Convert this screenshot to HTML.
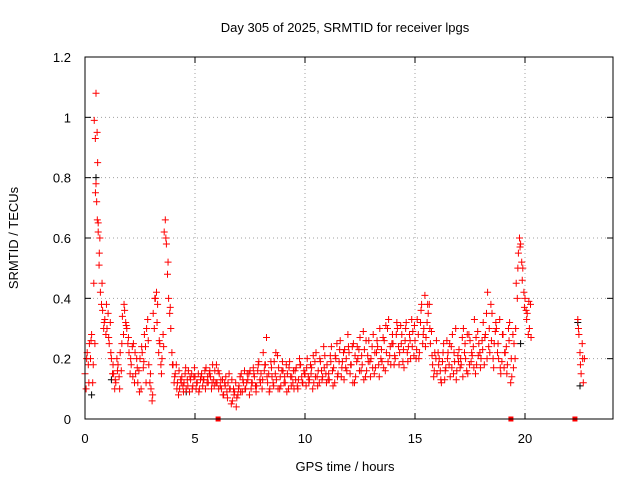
<!DOCTYPE html>
<html><head><meta charset="utf-8"><style>
body{margin:0;background:#fff}
svg{display:block;font-family:"Liberation Sans",sans-serif;font-size:13px}
</style></head><body>
<svg id="chart" width="640" height="480">
<text x="345" y="32" text-anchor="middle">Day 305 of 2025, SRMTID for receiver lpgs</text>
<text transform="translate(18,238) rotate(-90)" text-anchor="middle">SRMTID / TECUs</text>
<text x="345" y="471" text-anchor="middle">GPS time / hours</text>
<g id="grid"></g>
<g id="ticks"></g>
<g id="pts"></g>
<rect x="85" y="57" width="528" height="362" fill="none" stroke="#000" stroke-width="1"/>
</svg>
<script>
const xTicks=[0,5,10,15,20];
const yTicks=[0,0.2,0.4,0.6,0.8,1,1.2];
const yTickLabels=["0","0.2","0.4","0.6","0.8","1","1.2"];
const valsA=[0.15,0.22,0.25,0.28,0.45,1.08,0.65,0.42,0.36,0.33,
0.30,0.25,0.20,0.15,0.12,0.18,0.22,0.34,0.36,0.30,
0.22,0.18,0.25,0.15,0.12,0.20,0.22,0.28,0.30,0.18,
0.10,0.35,0.40,0.38,0.25,0.20,0.62,0.58,0.40,0.30,
0.18,0.15,0.12,0.10,0.14,0.12,0.10,0.16,0.13,0.11,
0.14,0.12,0.10,0.15,0.13,0.17,0.12,0.14,0.18,0.16,
0.12,0.15,0.10,0.08,0.14,0.12,0.10,0.06,0.09,0.07,
0.11,0.15,0.12,0.10,0.13,0.16,0.12,0.14,0.11,0.19,
0.15,0.22,0.18,0.12,0.10,0.14,0.19,0.13,0.17,0.11,
0.16,0.12,0.15,0.19,0.14,0.10,0.17,0.13,0.18,0.12,
0.15,0.20,0.13,0.17,0.12,0.22,0.16,0.19,0.14,0.21,
0.18,0.13,0.24,0.17,0.20,0.15,0.26,0.19,0.23,0.16,
0.22,0.18,0.25,0.14,0.20,0.27,0.18,0.23,0.16,0.26,
0.20,0.28,0.17,0.24,0.30,0.19,0.26,0.22,0.33,0.18,
0.25,0.20,0.30,0.22,0.28,0.17,0.32,0.24,0.20,0.29,
0.26,0.33,0.22,0.38,0.30,0.27,0.35,0.25,0.18,0.22,
0.15,0.20,0.12,0.25,0.17,0.22,0.14,0.28,0.19,0.16,
0.23,0.18,0.30,0.20,0.15,0.26,0.21,0.33,0.18,0.25,
0.20,0.32,0.28,0.42,0.22,0.35,0.25,0.30,0.20,0.15,
0.28,0.22,0.18,0.32,0.14,0.25,0.45,0.55,0.58,0.50,
0.40,0.35,0.30];
const valsB=[0.10,0.18,0.20,0.12,0.25,0.95,0.55,0.38,0.30,0.28,
0.35,0.32,0.15,0.10,0.20,0.14,0.16,0.28,0.32,0.25,
0.15,0.24,0.12,0.20,0.16,0.10,0.17,0.24,0.33,0.12,
0.06,0.30,0.42,0.22,0.18,0.28,0.66,0.48,0.35,0.22,
0.12,0.18,0.08,0.13,0.11,0.15,0.13,0.09,0.15,0.14,
0.10,0.15,0.13,0.11,0.16,0.12,0.15,0.10,0.13,0.12,
0.16,0.11,0.13,0.12,0.09,0.15,0.05,0.10,0.12,0.08,
0.14,0.09,0.16,0.12,0.15,0.10,0.17,0.11,0.16,0.13,
0.10,0.16,0.27,0.15,0.19,0.12,0.15,0.21,0.10,0.16,
0.12,0.18,0.10,0.14,0.12,0.16,0.11,0.20,0.14,0.16,
0.11,0.14,0.18,0.10,0.19,0.14,0.12,0.16,0.24,0.15,
0.13,0.21,0.16,0.12,0.25,0.19,0.14,0.22,0.17,0.28,
0.15,0.24,0.12,0.19,0.23,0.16,0.29,0.14,0.21,0.19,
0.24,0.15,0.22,0.18,0.20,0.27,0.16,0.30,0.21,0.25,
0.18,0.28,0.24,0.31,0.19,0.26,0.22,0.28,0.33,0.21,
0.20,0.28,0.32,0.25,0.41,0.32,0.38,0.29,0.14,0.20,
0.22,0.16,0.19,0.13,0.26,0.18,0.24,0.15,0.30,0.21,
0.17,0.27,0.22,0.16,0.28,0.19,0.24,0.15,0.29,0.22,
0.26,0.18,0.35,0.24,0.38,0.20,0.29,0.22,0.33,0.19,
0.17,0.24,0.30,0.12,0.28,0.20,0.40,0.60,0.52,0.42,
0.36,0.28,0.38];
const valsC=[0.20,0.12,0.26,0.18,0.75,0.85,0.60,0.45,0.32,0.38,
0.27,0.22,0.18,0.13,0.16,0.10,0.25,0.38,0.31,0.27,
0.20,0.14,0.22,0.17,0.09,0.24,0.19,0.12,0.26,0.15,
0.08,0.40,0.32,0.26,0.15,0.24,0.60,0.52,0.37,0.18,
0.14,0.10,0.16,0.12,0.09,0.17,0.11,0.14,0.10,0.17,
0.12,0.09,0.14,0.13,0.10,0.14,0.16,0.12,0.11,0.18,
0.10,0.13,0.08,0.11,0.07,0.10,0.13,0.08,0.04,0.10,
0.09,0.13,0.10,0.15,0.08,0.12,0.15,0.09,0.18,0.12,
0.13,0.18,0.14,0.09,0.17,0.11,0.22,0.10,0.14,0.19,
0.14,0.09,0.17,0.11,0.16,0.13,0.10,0.18,0.12,0.15,
0.17,0.12,0.15,0.21,0.14,0.11,0.20,0.13,0.17,0.12,
0.15,0.19,0.11,0.21,0.14,0.23,0.17,0.13,0.20,0.24,
0.18,0.12,0.21,0.24,0.16,0.21,0.13,0.26,0.19,0.14,
0.17,0.22,0.26,0.14,0.23,0.17,0.31,0.19,0.24,0.28,
0.21,0.32,0.18,0.25,0.23,0.30,0.19,0.26,0.24,0.31,
0.23,0.20,0.36,0.28,0.24,0.38,0.30,0.21,0.16,0.26,
0.18,0.13,0.22,0.16,0.20,0.25,0.17,0.22,0.13,0.19,
0.20,0.14,0.25,0.28,0.18,0.22,0.17,0.27,0.21,0.17,
0.23,0.27,0.20,0.30,0.26,0.17,0.32,0.25,0.17,0.28,
0.22,0.15,0.26,0.20,0.17,0.30,0.50,0.57,0.46,0.37,
0.33,0.39,0.27];
const spikeTimes=[0.42,0.47,0.5,0.53,0.56,0.6,0.64];
const spikeVals=[0.99,0.93,0.78,0.72,0.66,0.62,0.51];
const lateTimes=[22.4,22.43,22.45,22.5,22.52,22.55,22.6,22.62,22.65,22.7];
const lateVals=[0.33,0.30,0.28,0.22,0.18,0.15,0.25,0.20,0.12,0.20];
const blackTimes=[0.3,0.5,1.2,4.6,19.8,22.4,22.5];
const blackVals=[0.08,0.80,0.13,0.09,0.25,0.32,0.11];
const gapTimes=[6.05,19.36,22.27];

const X0=85,X1=613,XMAX=24,Y0=419,Y1=57,YMAX=1.2;
const sx=t=>X0+(X1-X0)*t/XMAX;
const sy=v=>Y0-(Y0-Y1)*v/YMAX;
const NS="http://www.w3.org/2000/svg";
const grid=document.getElementById('grid'),ticks=document.getElementById('ticks'),pts=document.getElementById('pts');
function mk(tag,attrs,parent){const e=document.createElementNS(NS,tag);for(const k in attrs)e.setAttribute(k,attrs[k]);parent.appendChild(e);return e;}
xTicks.forEach(t=>{
  const x=sx(t);
  if(t>0){const g=mk('line',{x1:x,x2:x,y1:Y1,y2:Y0,stroke:'#a0a0a0','stroke-dasharray':'1,3'},grid);
  
  }
  mk('line',{x1:x,x2:x,y1:Y0,y2:Y0-6,stroke:'#000'},ticks);
  mk('line',{x1:x,x2:x,y1:Y1,y2:Y1+6,stroke:'#000'},ticks);
  const l=mk('text',{x:x,y:Y0+24,'text-anchor':'middle'},ticks);l.textContent=t;
  
  
});
yTicks.forEach((v,i)=>{
  const y=sy(v);
  if(v>0&&v<YMAX){const g=mk('line',{x1:X0,x2:X1,y1:y,y2:y,stroke:'#a0a0a0','stroke-dasharray':'1,3'},grid);
  
  }
  mk('line',{x1:X0,x2:X0+6,y1:y,y2:y,stroke:'#000'},ticks);
  mk('line',{x1:X1,x2:X1-6,y1:y,y2:y,stroke:'#000'},ticks);
  const l=mk('text',{x:X0-14,y:y+5,'text-anchor':'end'},ticks);l.textContent=yTickLabels[i];
  
  
});
function plus(t,v,col){
  const x=sx(t),y=sy(v);
  const p=mk('path',{d:`M${x-3.5},${y}h7M${x},${y-3.5}v7`,stroke:col,'stroke-width':1,fill:'none'},pts);
  
  
}
blackVals.forEach((v,i)=>plus(blackTimes[i],v,'#000'));
valsA.forEach((v,i)=>plus(i*0.1,v,'#ff0000'));
valsB.forEach((v,i)=>plus(i*0.1+0.05,v,'#ff0000'));
valsC.forEach((v,i)=>plus(i*0.1+0.075,v,'#ff0000'));
spikeVals.forEach((v,i)=>plus(spikeTimes[i],v,'#ff0000'));
lateVals.forEach((v,i)=>plus(lateTimes[i],v,'#ff0000'));
gapTimes.forEach(t=>{
  const r=mk('rect',{x:sx(t)-2.5,y:Y0-2.5,width:5,height:5,fill:'#ff0000'},pts);
  
  
});
</script>
</body></html>
